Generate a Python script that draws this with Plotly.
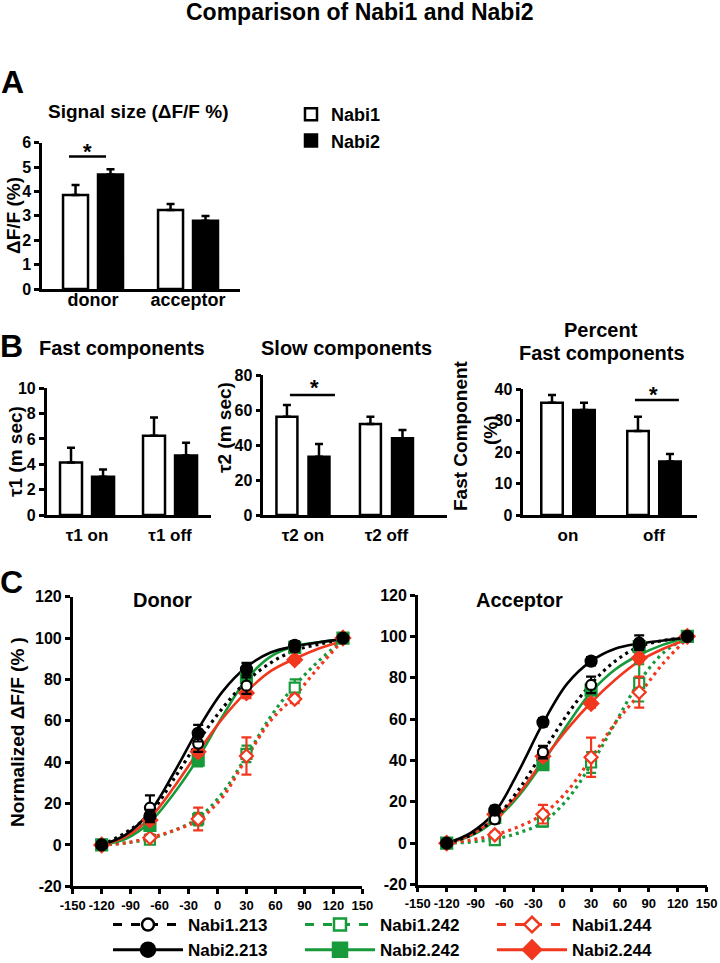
import plotly.graph_objects as go

FONT = "Liberation Sans, Arial, Helvetica, sans-serif"
W, H = 720, 963
BLACK = "#000000"
GREEN = "#179a3a"
RED = "#f2371f"

# ---------------- Panel A : signal size ----------------
a_categories = ["donor", "acceptor"]
a_nabi1 = [3.86, 3.24]
a_nabi1_err = [0.41, 0.25]
a_nabi2 = [4.70, 2.80]
a_nabi2_err = [0.21, 0.19]
a_ticks = [0, 1, 2, 3, 4, 5, 6]

# ---------------- Panel B : time constants ----------------
b1_categories = ["τ1 on", "τ1 off"]
b1_nabi1 = [4.15, 6.25]
b1_nabi1_err = [1.15, 1.45]
b1_nabi2 = [3.02, 4.70]
b1_nabi2_err = [0.58, 1.00]
b1_ticks = [0, 2, 4, 6, 8, 10]

b2_categories = ["τ2 on", "τ2 off"]
b2_nabi1 = [56.2, 52.0]
b2_nabi1_err = [6.7, 4.2]
b2_nabi2 = [33.3, 43.8]
b2_nabi2_err = [7.3, 4.8]
b2_ticks = [0, 20, 40, 60, 80]

b3_categories = ["on", "off"]
b3_nabi1 = [35.7, 26.7]
b3_nabi1_err = [2.5, 4.6]
b3_nabi2 = [33.4, 17.0]
b3_nabi2_err = [2.3, 2.4]
b3_ticks = [0, 10, 20, 30, 40]

# ---------------- Panel C : voltage dependence ----------------
voltages = [-120, -70, -20, 30, 80, 130]
fit_voltages = [-120, -95, -70, -45, -20, 5, 30, 55, 80, 105, 130]
c_xticks = [-150, -120, -90, -60, -30, 0, 30, 60, 90, 120, 150]
c_yticks = [-20, 0, 20, 40, 60, 80, 100, 120]

# Donor
donor_n1_213 = [0, 18, 49, 77, 95.5, 100]
donor_n1_213_err = [0, 6, 4, 4, 2, 0]
donor_n1_213_fit = [0, 6, 15, 32, 50, 66, 79, 88, 94, 97, 99.5]
donor_n2_213 = [0, 14, 54, 85, 96.5, 100]
donor_n2_213_err = [0, 3, 4, 3, 2, 0]
donor_n2_213_fit = [0, 5, 16, 35, 56, 74, 86, 93, 96, 98, 99.5]
donor_n1_242 = [0, 2.5, 12.5, 44, 76, 100]
donor_n1_242_err = [0, 1.5, 3, 4, 4, 0]
donor_n1_242_fit = [0, 1, 3, 7, 13, 25, 43, 62, 77, 89, 99]
donor_n2_242 = [0, 9.5, 41, 81, 95.5, 100]
donor_n2_242_err = [0, 2, 3, 3, 2, 0]
donor_n2_242_fit = [0, 3, 11, 25, 42, 62, 80, 91, 96, 98, 99.5]
donor_n1_244 = [0, 3.5, 12.5, 43, 70.5, 100]
donor_n1_244_err = [0, 1.5, 5.5, 9, 2, 0]
donor_n1_244_fit = [0, 1, 3.5, 7, 12, 23, 42, 60, 72, 86, 99]
donor_n2_244 = [0, 12, 45, 73.5, 89.5, 100]
donor_n2_244_err = [0, 2, 2, 2.5, 1.5, 0]
donor_n2_244_fit = [0, 4, 13, 28, 45, 61, 74, 84, 90, 95, 98.5]

# Acceptor
acc_n1_213 = [0, 11.5, 44, 76.5, 97, 100]
acc_n1_213_err = [0, 2, 3, 4, 3.5, 0]
acc_n1_213_fit = [0, 4, 12, 26, 44, 62, 77, 88, 95, 98, 99.5]
acc_n2_213 = [0, 16, 58.5, 88, 96, 100]
acc_n2_213_err = [0, 2, 2, 2, 2, 0]
acc_n2_213_fit = [0, 5, 15, 35, 58, 77, 88, 94, 96.5, 98, 99.5]
acc_n1_242 = [0, 1.5, 10.5, 39, 77.5, 100]
acc_n1_242_err = [0, 1.5, 2.5, 5, 9, 0]
acc_n1_242_fit = [0, 0.5, 2, 5, 10, 21, 38, 58, 78, 92, 99.5]
acc_n2_242 = [0, 12.5, 38, 74, 95, 100]
acc_n2_242_err = [0, 2, 2, 2, 2, 0]
acc_n2_242_fit = [0, 3.5, 11, 23, 39, 57, 73, 84, 91, 96, 99.5]
acc_n1_244 = [0, 4, 14, 41.5, 73, 100]
acc_n1_244_err = [0, 1.5, 4.5, 9.5, 7.5, 0]
acc_n1_244_fit = [0, 1.5, 4, 8, 14, 25, 41, 58, 72, 87, 99]
acc_n2_244 = [0, 14, 42, 67.5, 89.5, 100]
acc_n2_244_err = [0, 2, 2, 2, 2, 0]
acc_n2_244_fit = [0, 4, 12, 24, 40, 55, 68, 79, 88, 94, 98.5]

series_names = ["Nabi1.213", "Nabi1.242", "Nabi1.244", "Nabi2.213", "Nabi2.242", "Nabi2.244"]
donor_points = [donor_n1_213, donor_n1_242, donor_n1_244, donor_n2_213, donor_n2_242, donor_n2_244]
donor_errs = [donor_n1_213_err, donor_n1_242_err, donor_n1_244_err, donor_n2_213_err, donor_n2_242_err, donor_n2_244_err]
donor_fits = [donor_n1_213_fit, donor_n1_242_fit, donor_n1_244_fit, donor_n2_213_fit, donor_n2_242_fit, donor_n2_244_fit]
acc_points = [acc_n1_213, acc_n1_242, acc_n1_244, acc_n2_213, acc_n2_242, acc_n2_244]
acc_errs = [acc_n1_213_err, acc_n1_242_err, acc_n1_244_err, acc_n2_213_err, acc_n2_242_err, acc_n2_244_err]
acc_fits = [acc_n1_213_fit, acc_n1_242_fit, acc_n1_244_fit, acc_n2_213_fit, acc_n2_242_fit, acc_n2_244_fit]

STYLE = {
    "Nabi1.213": dict(color=BLACK, symbol="circle", filled=False),
    "Nabi1.242": dict(color=GREEN, symbol="square", filled=False),
    "Nabi1.244": dict(color=RED, symbol="diamond", filled=False),
    "Nabi2.213": dict(color=BLACK, symbol="circle", filled=True),
    "Nabi2.242": dict(color=GREEN, symbol="square", filled=True),
    "Nabi2.244": dict(color=RED, symbol="diamond", filled=True),
}


def px(x):
    return x / W


def py(y):
    return 1 - y / H


fig = go.Figure()
BOLD = dict(family=FONT, color="black", weight="bold")


def add_bars(cats, v1, e1, v2, e2, axn, off, width, legend=False):
    idx = list(range(len(cats)))
    xa = "x" if axn == 1 else f"x{axn}"
    ya = "y" if axn == 1 else f"y{axn}"
    for vals, errs, fill, name, sgn in [(v1, e1, "white", "Nabi1", -1), (v2, e2, "black", "Nabi2", 1)]:
        fig.add_trace(go.Bar(
            x=[i + sgn * off for i in idx], y=vals, width=width,
            marker=dict(color=fill, line=dict(color="black", width=2.5)),
            error_y=dict(type="data", array=errs, arrayminus=[0] * len(errs), symmetric=False,
                         color="black", thickness=2.5, width=4),
            xaxis=xa, yaxis=ya, name=name, showlegend=legend, legend="legend2",
        ))


add_bars(a_categories, a_nabi1, a_nabi1_err, a_nabi2, a_nabi2_err, 1, 0.184, 0.263, legend=True)
add_bars(b1_categories, b1_nabi1, b1_nabi1_err, b1_nabi2, b1_nabi2_err, 2, 0.193, 0.265)
add_bars(b2_categories, b2_nabi1, b2_nabi1_err, b2_nabi2, b2_nabi2_err, 3, 0.192, 0.251)
add_bars(b3_categories, b3_nabi1, b3_nabi1_err, b3_nabi2, b3_nabi2_err, 4, 0.186, 0.25)

# Panel C traces
draw_order = [1, 2, 4, 5, 0, 3]  # greens/reds first, black on top
for axn, pts, errs, fits in [(5, donor_points, donor_errs, donor_fits), (6, acc_points, acc_errs, acc_fits)]:
    for k in draw_order:
        name = series_names[k]
        st = STYLE[name]
        fig.add_trace(go.Scatter(
            x=fit_voltages, y=fits[k], mode="lines", line_shape="spline",
            line=dict(color=st["color"], width=3.2 if not st["filled"] else 2.6,
                      dash="solid" if st["filled"] else "3px,4px"),
            xaxis=f"x{axn}", yaxis=f"y{axn}", showlegend=False, hoverinfo="skip",
        ))
    for k in draw_order:
        name = series_names[k]
        st = STYLE[name]
        fig.add_trace(go.Scatter(
            x=voltages, y=pts[k], mode="markers",
            marker=dict(color=st["color"] if st["filled"] else "white", symbol=st["symbol"],
                        size=11 if st["filled"] else 10,
                        line=dict(color=st["color"], width=2.2)),
            error_y=dict(type="data", array=errs[k], color=st["color"], thickness=2.2, width=5),
            xaxis=f"x{axn}", yaxis=f"y{axn}", showlegend=False, name=name,
        ))

# legend-only entries for panel C
for name in series_names:
    st = STYLE[name]
    fig.add_trace(go.Scatter(
        x=[None], y=[None], mode="lines+markers", name=name,
        line=dict(color=st["color"], width=3, dash="solid" if st["filled"] else "dash"),
        marker=dict(color=st["color"] if st["filled"] else "white", symbol=st["symbol"],
                    size=14 if st["filled"] else 12, line=dict(color=st["color"], width=2.5)),
        xaxis="x5", yaxis="y5", showlegend=True, legend="legend",
    ))

AX = dict(showline=True, linecolor="black", linewidth=2.5, showgrid=False, zeroline=False, mirror=False)


def bar_axes(n, xpx, ypx, xr, yticks, cats, labsize, standoff):
    xs = "xaxis" if n == 1 else f"xaxis{n}"
    ys = "yaxis" if n == 1 else f"yaxis{n}"
    anc_y = "y" if n == 1 else f"y{n}"
    anc_x = "x" if n == 1 else f"x{n}"
    fig.layout[xs] = dict(domain=[px(xpx[0]), px(xpx[1])], range=xr, anchor=anc_y, tickvals=[0, 1],
                          ticktext=cats, ticks="", tickfont=dict(size=labsize, **BOLD),
                          ticklabelstandoff=standoff, **AX)
    fig.layout[ys] = dict(domain=[py(ypx[0]), py(ypx[1])], range=[yticks[0], yticks[-1]], anchor=anc_x,
                          tickvals=yticks, ticktext=[str(t) for t in yticks], ticks="outside", ticklen=5,
                          tickwidth=2.5, tickcolor="black", tickfont=dict(size=16, **BOLD), **AX)


bar_axes(1, (42, 240), (289, 142.7), [-0.537, 1.547], a_ticks, a_categories, 18, -7)
bar_axes(2, (46.7, 210.7), (515, 388.3), [-0.486, 1.49], b1_ticks, b1_categories, 17, 3)
bar_axes(3, (263.3, 447), (515, 375), [-0.475, 1.725], b2_ticks, b2_categories, 17, 3)
bar_axes(4, (523.3, 696.7), (515, 389.3), [-0.52, 1.497], b3_ticks, b3_categories, 17, 3)


def c_axes(n, xpx, ypx):
    fig.layout[f"xaxis{n}"] = dict(domain=[px(xpx[0]), px(xpx[1])], range=[-150, 150], anchor=f"y{n}",
                                   tickvals=c_xticks, ticktext=[str(t) for t in c_xticks], ticks="outside",
                                   ticklen=5, tickwidth=2.5, tickcolor="black", tickangle=0,
                                   tickfont=dict(size=13, **BOLD), **AX)
    fig.layout[f"yaxis{n}"] = dict(domain=[py(ypx[0]), py(ypx[1])], range=[-20, 120], anchor=f"x{n}",
                                   tickvals=c_yticks, ticktext=[str(t) for t in c_yticks], ticks="outside",
                                   ticklen=5, tickwidth=2.5, tickcolor="black",
                                   tickfont=dict(size=16, **BOLD), **AX)


c_axes(5, (72.7, 362.3), (886.3, 596.7))
c_axes(6, (417.8, 706.6), (884.5, 595))

# significance bars
shapes = []
for xref, yref, x0, x1, yv in [("x", "y", -0.253, 0.137, 5.43), ("x3", "y3", -0.156, 0.383, 68.6),
                               ("x4", "y4", 0.779, 1.29, 36.6)]:
    shapes.append(dict(type="line", xref=xref, yref=yref, x0=x0, x1=x1, y0=yv, y1=yv,
                       line=dict(color="black", width=2.5)))

annotations = []


def ann(text, x, y, size, angle=0, xref="paper", yref="paper", xanchor="center"):
    annotations.append(dict(text=text, x=x, y=y, xref=xref, yref=yref, showarrow=False, xanchor=xanchor,
                            yanchor="middle", textangle=angle, font=dict(size=size, **BOLD)))


for xref, yref, xv, yv in [("x", "y", -0.063, 5.63), ("x3", "y3", 0.144, 72.6), ("x4", "y4", 0.992, 38.2)]:
    ann("*", xv, yv, 22, xref=xref, yref=yref)

ann("Comparison of Nabi1 and Nabi2", px(360), py(12), 23)
ann("A", px(12), py(82), 32)
ann("Signal size (ΔF/F %)", px(137.5), py(112), 19)
ann("B", px(11), py(346), 32)
ann("Fast components", px(121.5), py(348), 20)
ann("Slow components", px(346.5), py(348), 20)
ann("Percent", px(601), py(330), 20)
ann("Fast components", px(601.5), py(353), 20)
ann("C", px(11.5), py(582), 32)
ann("Donor", px(162), py(600), 20)
ann("Acceptor", px(519.5), py(600), 20)

ann("ΔF/F (%)", px(13), py(216), 19, angle=-90)
ann("τ1 (m sec)", px(15), py(452), 19, angle=-90)
ann("τ2 (m sec)", px(224), py(428), 19, angle=-90)
ann("Fast Component", px(461), py(435), 19, angle=-90)
ann("(%)", px(490), py(430), 19, angle=-90)
ann("Normalized ΔF/F (% )", px(17), py(732), 19, angle=-90)

fig.update_layout(
    width=W, height=H, margin=dict(l=0, r=0, t=0, b=0, autoexpand=False),
    paper_bgcolor="white", plot_bgcolor="rgba(0,0,0,0)",
    font=dict(family=FONT, color="black"),
    barmode="overlay",
    shapes=shapes, annotations=annotations,
    legend=dict(orientation="h", x=px(108), xanchor="left", y=py(907), yanchor="top",
                entrywidth=107, entrywidthmode="pixels", traceorder="normal", itemwidth=70,
                font=dict(size=17, **BOLD), bgcolor="rgba(0,0,0,0)"),
    legend2=dict(orientation="v", x=px(291), xanchor="left", y=py(96), yanchor="top",
                 traceorder="normal", font=dict(size=18, **BOLD), bgcolor="rgba(0,0,0,0)",
                 tracegroupgap=0),
    showlegend=True,
)

fig.write_html("out.html", config={"displayModeBar": False},
               post_script="document.body.style.margin='0px';document.body.style.overflow='hidden';")
